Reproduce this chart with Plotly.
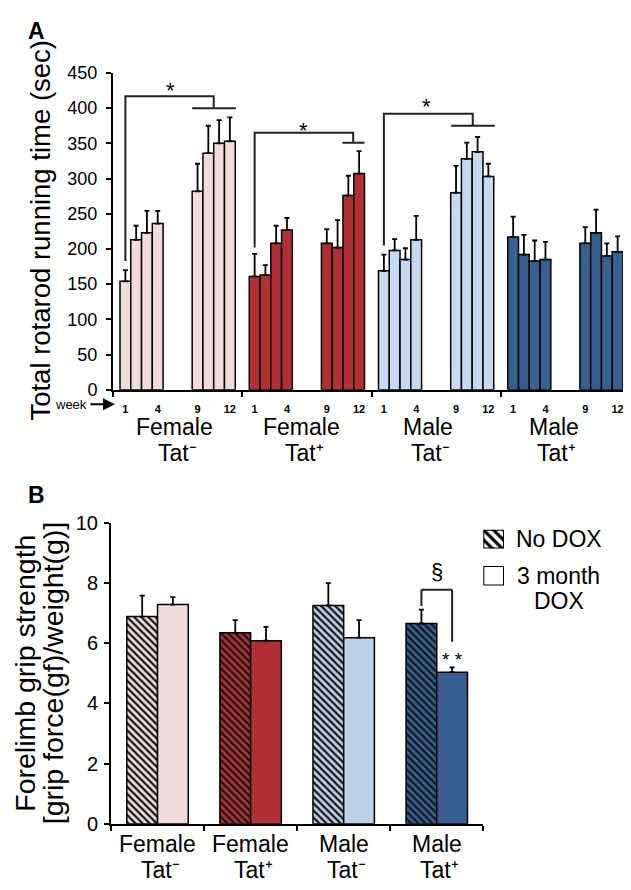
import plotly.graph_objects as go

# ---------------- DATA ----------------
groups = ["Female", "Female", "Male", "Male"]
tat_sign = ["⁻", "⁺", "⁻", "⁺"]
weeks = [1, 2, 3, 4, 9, 10, 11, 12]
week_labels = ["1", "", "", "4", "9", "", "", "12"]

# Panel A: total rotarod running time (sec), mean and SEM (upper)
rot_female_neg = [154, 213, 223, 236, 282, 336, 350, 353]
rot_female_neg_err = [16, 20, 31, 18, 39, 39, 33, 34]
rot_female_pos = [161, 163, 208, 227, 208, 202, 276, 307]
rot_female_pos_err = [32, 14, 25, 17, 20, 39, 28, 32]
rot_male_neg = [169, 198, 185, 213, 280, 328, 338, 303]
rot_male_neg_err = [23, 16, 16, 34, 38, 23, 21, 18]
rot_male_pos = [217, 192, 183, 185, 208, 223, 190, 196]
rot_male_pos_err = [29, 28, 29, 25, 23, 33, 18, 22]

# Panel B: forelimb grip strength
grip_nodox = [6.89, 6.35, 7.26, 6.66]
grip_nodox_err = [0.70, 0.42, 0.74, 0.46]
grip_dox = [7.29, 6.09, 6.19, 5.04]
grip_dox_err = [0.25, 0.46, 0.58, 0.16]

# ---------------- STYLE / LAYOUT ----------------
OFF = 8                      # page body margin of the html page
W, H = 631 - OFF, 890 - OFF  # figure size so that it fits the window
FONT = "Liberation Sans, Arial, sans-serif"
colors_a = ["#f2dcdb", "#b03034", "#c6d9f1", "#366092"]
colors_b = ["#f2dcdb", "#b03034", "#bcd0e8", "#366092"]
HATCH = "#151515"


def px(x):
    return (x - OFF) / W


def py(y):
    return 1 - (y - OFF) / H


GROUP_W = 12
slot = {1: 1.15, 2: 2.15, 3: 3.15, 4: 4.15, 9: 7.85, 10: 8.85, 11: 9.85, 12: 10.85}

fig = go.Figure()

rot_means = [rot_female_neg, rot_female_pos, rot_male_neg, rot_male_pos]
rot_errs = [rot_female_neg_err, rot_female_pos_err, rot_male_neg_err, rot_male_pos_err]

tickvals_a, ticktext_a = [], []
for g, (m, e) in enumerate(zip(rot_means, rot_errs)):
    xs = [g * GROUP_W + slot[w] for w in weeks]
    fig.add_trace(go.Bar(
        x=xs, y=m, width=1,
        marker=dict(color=colors_a[g], line=dict(color="black", width=1.5)),
        error_y=dict(type="data", array=e, arrayminus=[0] * len(e), symmetric=False,
                     color="black", thickness=1.8, width=2.5),
        xaxis="x", yaxis="y", showlegend=False,
    ))
    for xv, lab in zip(xs, week_labels):
        if lab:
            tickvals_a.append(xv)
            ticktext_a.append(lab)

# Panel B (one trace per group so that each hatch uses a plain colour)
xb = list(range(len(groups)))
BW = 0.33
for g in xb:
    fig.add_trace(go.Bar(
        x=[g], y=[grip_nodox[g]], width=BW, offset=-BW,
        marker=dict(color=colors_b[g], line=dict(color="black", width=1.5),
                    pattern=dict(shape="\\", fgcolor=HATCH, bgcolor=colors_b[g],
                                 fgopacity=1, fillmode="replace", size=5, solidity=0.45)),
        error_y=dict(type="data", array=[grip_nodox_err[g]], arrayminus=[0], symmetric=False,
                     color="black", thickness=1.8, width=2.5),
        xaxis="x2", yaxis="y2", showlegend=False,
    ))
    fig.add_trace(go.Bar(
        x=[g], y=[grip_dox[g]], width=BW, offset=0,
        marker=dict(color=colors_b[g], line=dict(color="black", width=1.5)),
        error_y=dict(type="data", array=[grip_dox_err[g]], arrayminus=[0], symmetric=False,
                     color="black", thickness=1.8, width=2.5),
        xaxis="x2", yaxis="y2", showlegend=False,
    ))

# Legend swatches (mini axes)
fig.add_trace(go.Bar(
    x=[0], y=[1], width=1,
    marker=dict(color="white", line=dict(color="black", width=2),
                pattern=dict(shape="\\", fgcolor="black", bgcolor="white", fgopacity=1,
                             fillmode="replace", size=7, solidity=0.45)),
    xaxis="x3", yaxis="y3", showlegend=False, hoverinfo="skip",
))
fig.add_trace(go.Bar(
    x=[0], y=[1], width=1,
    marker=dict(color="white", line=dict(color="black", width=2)),
    xaxis="x4", yaxis="y4", showlegend=False, hoverinfo="skip",
))

axis_common = dict(showline=True, linecolor="black", linewidth=2, showgrid=False,
                   zeroline=False, ticks="outside", tickcolor="black", tickwidth=1.5)

fig.update_layout(
    width=W, height=H, margin=dict(l=0, r=0, t=0, b=0),
    paper_bgcolor="white", plot_bgcolor="rgba(0,0,0,0)",
    barmode="overlay", showlegend=False,
    font=dict(family=FONT, color="black"),
    xaxis=dict(axis_common, domain=[px(113), px(630)], range=[0, 4 * GROUP_W],
               tickmode="array", tickvals=tickvals_a, ticktext=ticktext_a, ticks="",
               tickfont=dict(size=11, weight="bold"), ticklabelstandoff=8,
               minor=dict(ticks="outside", tickvals=[0, 12, 24, 36, 48], ticklen=5,
                          tickwidth=1.5, tickcolor="black", showgrid=False),
               anchor="y"),
    yaxis=dict(axis_common, domain=[py(388.3), py(63.3)], range=[0, 450],
               tickmode="array", tickvals=list(range(0, 451, 50)), ticklen=5,
               tickfont=dict(size=18), ticklabelstandoff=5, anchor="x"),
    xaxis2=dict(axis_common, domain=[px(111), px(483.3)], range=[-0.5, 3.5],
                tickmode="array", tickvals=[-0.5, 0.5, 1.5, 2.5, 3.5], ticklen=5,
                showticklabels=False, anchor="y2"),
    yaxis2=dict(axis_common, domain=[py(833.3), py(525)], range=[0, 10],
                tickmode="array", tickvals=[0, 2, 4, 6, 8, 10], ticklen=5,
                tickfont=dict(size=20), ticklabelstandoff=2, anchor="x2"),
    xaxis3=dict(domain=[px(483.3), px(504)], range=[-0.5, 0.5], visible=False, anchor="y3"),
    yaxis3=dict(domain=[py(551), py(531.7)], range=[0, 1], visible=False, anchor="x3"),
    xaxis4=dict(domain=[px(483.3), px(504)], range=[-0.5, 0.5], visible=False, anchor="y4"),
    yaxis4=dict(domain=[py(589), py(569)], range=[0, 1], visible=False, anchor="x4"),
)

ann = []


def paper_text(x, y, text, size, **kw):
    d = dict(x=px(x), y=py(y), xref="paper", yref="paper", text=text, showarrow=False,
             font=dict(size=size, family=FONT, color="black"), xanchor="center", yanchor="middle")
    d.update(kw)
    ann.append(d)


paper_text(36.7, 20.5, "<b>A</b>", 23)
paper_text(36.7, 495.7, "<b>B</b>", 23)
paper_text(41, 225, "Total rotarod running time (sec)", 27.5, textangle=-90)
paper_text(25.5, 679, "Forelimb grip strength", 28.5, textangle=-90)
paper_text(53, 679, "[grip force(gf)/weight(g)]", 28.5, textangle=-90)
paper_text(71, 403, "week", 13)
ann.append(dict(x=px(115), y=py(403), xref="paper", yref="paper", ax=-26, ay=0,
                text="", showarrow=True, arrowhead=2, arrowsize=1.2, arrowwidth=2,
                arrowcolor="black"))

LBL = dict(size=23, family=FONT, color="black")
# Panel A group labels
label_x_a = [5.7, 17.5, 29.2, 40.9]
for g in range(len(groups)):
    ann.append(dict(x=label_x_a[g], y=py(426.5), xref="x", yref="paper", text=groups[g],
                    showarrow=False, xanchor="center", yanchor="middle", font=LBL))
    ann.append(dict(x=label_x_a[g], y=py(453.5), xref="x", yref="paper",
                    text="Tat" + tat_sign[g], xshift=3, xanchor="center", yanchor="middle",
                    showarrow=False, font=LBL))
# Panel B group labels
for g in range(len(groups)):
    ann.append(dict(x=xb[g], y=py(854.5), xref="x2", yref="paper", text=groups[g],
                    showarrow=False, xanchor="center", yanchor="middle", font=LBL))
    ann.append(dict(x=xb[g], y=py(881), xref="x2", yref="paper",
                    text="Tat" + tat_sign[g], xshift=3, xanchor="center", yanchor="middle",
                    showarrow=False, font=LBL))

# Legend text
paper_text(514, 541.5, "No DOX", 23, xanchor="left")
paper_text(515, 579, "3 month", 23, xanchor="left")
paper_text(559, 605, "DOX", 23)

# Significance brackets, panel A
shapes = []
LINE = dict(color="#222", width=2)
brackets_a = [
    (1.15, 183, 417, 9.35, 400, 7.35, 11.4),
    (13.15, 202, 365, 22.3, 351, 21.3, 23.35),
    (25.15, 205, 392, 33.4, 375, 31.4, 35.45),
]
for x0, yb, yt, xm, yl, l0, l1 in brackets_a:
    shapes.append(dict(type="path", xref="x", yref="y",
                       path=f"M{x0},{yb} L{x0},{yt} L{xm},{yt} L{xm},{yl}", line=LINE))
    shapes.append(dict(type="line", xref="x", yref="y", x0=l0, x1=l1, y0=yl, y1=yl, line=LINE))
for sx, sy in [(5.3, 434), (17.7, 377), (29.1, 411)]:
    ann.append(dict(x=sx, y=sy, xref="x", yref="y", text="*", showarrow=False,
                    xanchor="center", yanchor="middle", yshift=-6,
                    font=dict(size=22, family=FONT, color="black")))

# Panel B bracket
bl, br = 3 - BW / 2, 3 + BW / 2
shapes.append(dict(type="line", xref="x2", yref="y2", x0=bl, x1=bl, y0=7.24, y1=7.78, line=LINE))
shapes.append(dict(type="line", xref="x2", yref="y2", x0=bl, x1=br, y0=7.78, y1=7.78, line=LINE))
shapes.append(dict(type="line", xref="x2", yref="y2", x0=br, x1=br, y0=7.78, y1=6.05, line=LINE))
ann.append(dict(x=3, y=8.38, xref="x2", yref="y2", text="§", showarrow=False,
                xanchor="center", yanchor="middle",
                font=dict(size=22, family=FONT, color="black")))
ann.append(dict(x=br, y=5.62, xref="x2", yref="y2", text="* *", showarrow=False,
                xanchor="center", yanchor="middle", yshift=-5,
                font=dict(size=19, family=FONT, color="black")))

fig.update_layout(annotations=ann, shapes=shapes)
fig.write_html("out.html")
